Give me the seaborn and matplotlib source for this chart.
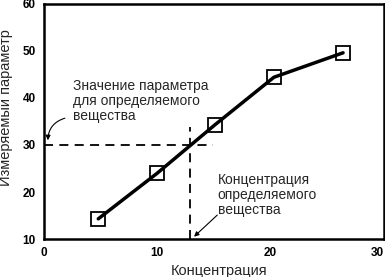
import matplotlib
matplotlib.use("Agg")
import matplotlib.pyplot as plt
import seaborn as sns
import pandas as pd

concentration = [4.8, 10.0, 15.1, 20.3, 26.4]
measured = [14.3, 24.0, 34.3, 44.4, 49.6]
x_ticks = [0, 10, 20, 30]
y_ticks = [10, 20, 30, 40, 50, 60]
sample_value = 30
sample_conc = 12.9

sns.set_style("white")
plt.rcParams['font.family'] = ['Liberation Sans', 'DejaVu Sans']

df = pd.DataFrame({"x": concentration, "y": measured})

fig = plt.figure(figsize=(3.85, 2.77), dpi=100)
ax = fig.add_axes([0.114, 0.137, 0.883, 0.849])

sns.lineplot(data=df, x="x", y="y", ax=ax, color="black", linewidth=2.5,
             marker="s", markersize=10, markerfacecolor="none",
             markeredgecolor="black", markeredgewidth=1.3)

# dashed guide lines
ax.plot([0, 14.9], [sample_value, sample_value], color="black", lw=1.3,
        dashes=(5, 3.5))
ax.plot([sample_conc, sample_conc], [10, 33.8], color="black", lw=1.3,
        dashes=(5, 3.5))

ax.set_xlim(0, 30)
ax.set_ylim(10, 60)
ax.set_xticks(x_ticks)
ax.set_yticks(y_ticks)
xl = ax.set_xticklabels([str(v) for v in x_ticks], fontweight="bold", fontsize=8.5)
xl[-1].set_ha("right")
ax.set_yticklabels([str(v) for v in y_ticks], fontweight="bold", fontsize=8.5)
ax.tick_params(axis="y", direction="in", length=12, width=1.5, pad=6, colors="black")
ax.tick_params(axis="x", direction="in", length=9, width=1.5, pad=6, colors="black")

for s in ax.spines.values():
    s.set_linewidth(1.8)
    s.set_color("black")

ax.set_xlabel("Концентрация", fontsize=10.5)
ax.set_ylabel("Измеряемый параметр", fontsize=10.5)
ax.yaxis.set_label_coords(-0.09, 0.56)
ax.xaxis.set_label_coords(0.515, -0.105)

ax.text(2.55, 44.0, "Значение параметра\nдля определяемого\nвещества",
        fontsize=10, linespacing=1.1, ha="left", va="top")
ax.annotate("", xy=(0.35, 31.0), xytext=(1.85, 35.7),
            arrowprops=dict(arrowstyle="-|>", color="black", lw=0.8,
                            connectionstyle="arc3,rad=0.35",
                            shrinkA=0, shrinkB=0, mutation_scale=7))

ax.text(15.35, 24.0, "Концентрация\nопределяемого\nвещества",
        fontsize=10, linespacing=1.1, ha="left", va="top")
ax.annotate("", xy=(13.25, 10.5), xytext=(15.3, 15.1),
            arrowprops=dict(arrowstyle="-|>", color="black", lw=0.8,
                            shrinkA=0, shrinkB=0, mutation_scale=7))

fig.savefig("out.png", dpi=100)
